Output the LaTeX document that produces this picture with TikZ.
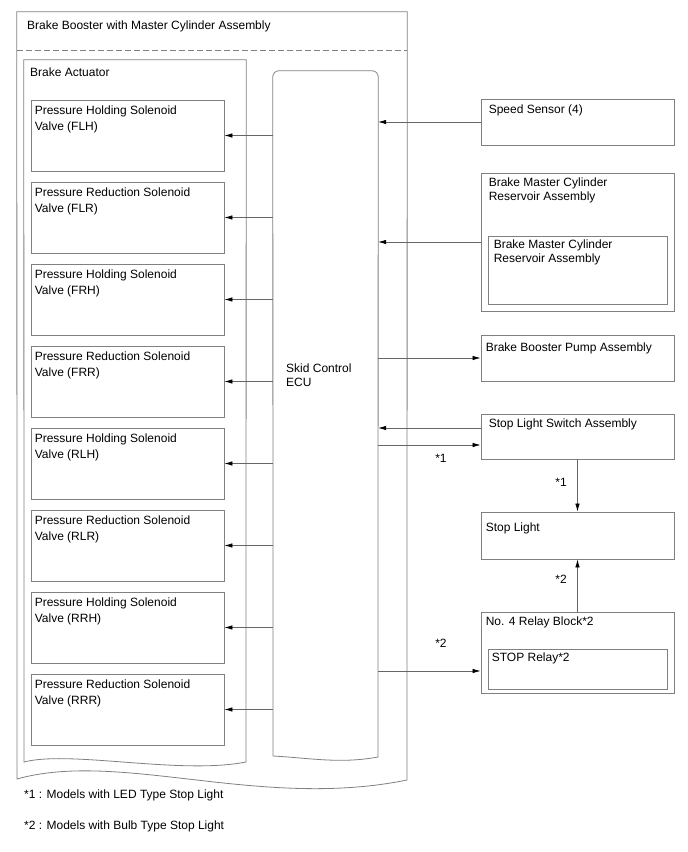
\documentclass[tikz,border=0pt]{standalone}
\usepackage{fontspec}
\setmainfont{Liberation Sans}
\usetikzlibrary{arrows.meta,fit,calc}
\begin{document}
\begin{tikzpicture}[x=1pt,y=-1pt,
  ln/.style={draw=black!50, line width=0.8pt},
  box/.style={ln, inner sep=0pt},
  ghost/.style={inner sep=0pt},
  txt/.style={anchor=north west, inner sep=0pt, font=\fontsize{12}{14}\selectfont, align=left},
  lbl/.style={inner sep=0pt, font=\fontsize{12}{14}\selectfont},
  arr/.style={draw=black!60, line width=0.7pt, -{Latex[length=8pt,width=4.5pt,black]}},
]
\useasboundingbox (0,0) rectangle (688,852);

% outer assembly
\node[ghost, fit={(17,12) (407,780)}] (outer) {};
\draw[ln] (17,779) -- (outer.north west) -- (outer.north east) -- (407,780)
  .. controls (260,810) and (120,750) .. (17,779) -- cycle;
\draw[ln, dash pattern=on 6pt off 3pt] (17,50) -- (407,50);
\node[txt] (outert) at (27,21) {Brake Booster with Master Cylinder Assembly};

% brake actuator
\node[ghost, fit={(24,60) (246,762)}] (act) {};
\draw[ln] (24,762) -- (act.north west) -- (act.north east) -- (246,762)
  .. controls (180,775) and (70,750) .. (24,762) -- cycle;
\node[txt] (actt) at (30,68) {Brake Actuator};

% ECU
\node[ghost, fit={(273,71) (378,757)}] (ecu) {};
\draw[ln, rounded corners=6pt] (273,756) -- (ecu.north west) -- (ecu.north east) -- (378,757);
\draw[ln] (273,756) .. controls (310,758) and (340,764) .. (378,757);
\node[txt] (ecut) at (286,364) {Skid Control\\ECU};

% valves
\foreach \i/\t/\lab in {1/100/FLH, 2/182/FLR, 3/264/FRH, 4/346/FRR, 5/428/RLH, 6/510/RLR, 7/592/RRH, 8/674/RRR}{
  \pgfmathsetmacro{\b}{\t+71}
  \node[box, fit={(31,\t) (224,\b)}] (v\i) {};
  \pgfmathsetmacro{\kind}{int(mod(\i,2))}
  \ifnum\kind=1
    \node[txt] (vt\i) at ($(v\i.north west)+(4,6)$) {Pressure Holding Solenoid\\[2pt]Valve (\lab)};
  \else
    \node[txt] (vt\i) at ($(v\i.north west)+(4,6)$) {Pressure Reduction Solenoid\\[2pt]Valve (\lab)};
  \fi
  \draw[arr] (ecu.west |- v\i.east) -- (v\i.east);
}

% right column
\node[box, fit={(481,99) (674,145)}] (ss) {};
\node[txt] (sst) at ($(ss.north west)+(8,6)$) {Speed Sensor (4)};

\node[box, fit={(481,173) (674,311)}] (res) {};
\node[txt] (rest) at ($(res.north west)+(8,5)$) {Brake Master Cylinder\\Reservoir Assembly};
\node[box, fit={(488,236) (667,304)}] (res2) {};
\node[txt] (res2t) at ($(res2.north west)+(6,4)$) {Brake Master Cylinder\\Reservoir Assembly};

\node[box, fit={(481,335) (674,381)}] (pump) {};
\node[txt] (pumpt) at ($(pump.north west)+(5,8)$) {Brake Booster Pump Assembly};

\node[box, fit={(481,414) (674,459)}] (sw) {};
\node[txt] (swt) at ($(sw.north west)+(8,5)$) {Stop Light Switch Assembly};

\node[box, fit={(481,512) (674,559)}] (sl) {};
\node[txt] (slt) at ($(sl.north west)+(5,11)$) {Stop Light};

\node[box, fit={(481,612) (674,693)}] (rb) {};
\node[txt] (rbt) at ($(rb.north west)+(5,5)$) {No. 4 Relay Block*2};
\node[box, fit={(488,649) (667,689)}] (stop) {};
\node[txt] (stopt) at ($(stop.north west)+(4,4)$) {STOP Relay*2};

% connectors
\coordinate (swin) at ($(sw.west)+(0,-8.5)$);
\coordinate (swout) at ($(sw.west)+(0,8.5)$);
\coordinate (rbin) at ($(stop.west)+(0,2)$);
\draw[arr] (ss.west) -- (ecu.east |- ss.west);
\draw[arr] (res.west) -- (ecu.east |- res.west);
\draw[arr] (ecu.east |- pump.west) -- (pump.west);
\draw[arr] (swin) -- (ecu.east |- swin);
\draw[arr] (ecu.east |- swout) -- (swout);
\draw[arr] (sw.south) -- (sl.north);
\draw[arr] (rb.north) -- (sl.south);
\draw[arr] (ecu.east |- rbin) -- (rb.west |- rbin);

% labels
\node[lbl] (n1a) at (441,458) {*1};
\node[lbl] (n1b) at (561,482) {*1};
\node[lbl] (n2a) at (561,579) {*2};
\node[lbl] (n2b) at (441,643) {*2};

% footnotes
\node[lbl, anchor=west] (f1) at (24,795) {*1 : Models with LED Type Stop Light};
\node[lbl, anchor=west] (f2) at (24,826) {*2 : Models with Bulb Type Stop Light};
\end{tikzpicture}
\end{document}
